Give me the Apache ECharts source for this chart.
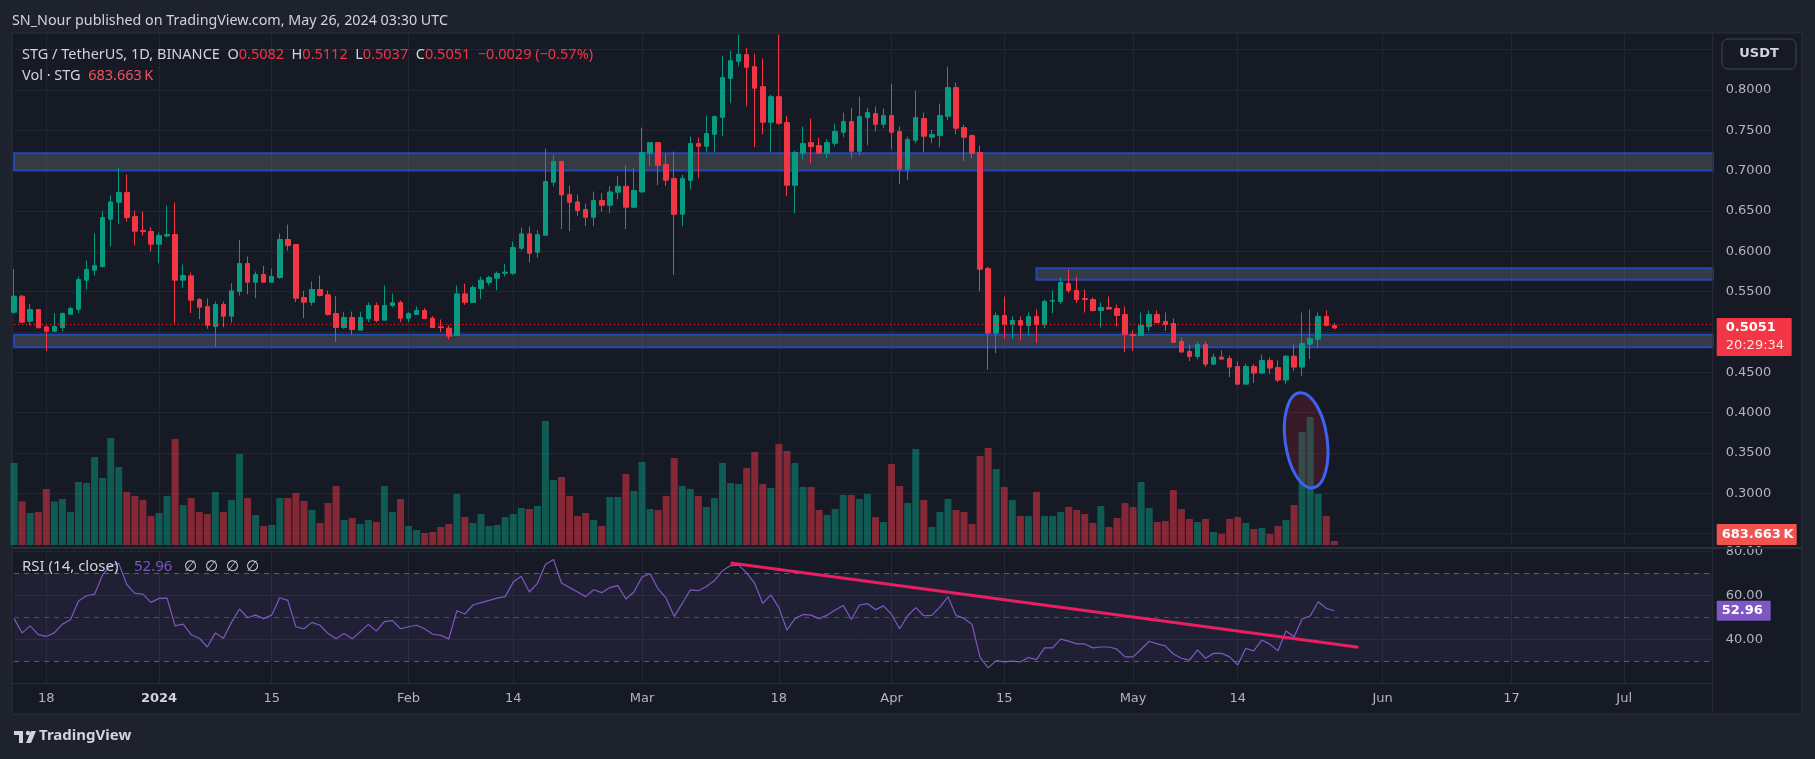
<!DOCTYPE html>
<html>
<head>
<meta charset="utf-8">
<title>STG / TetherUS 1D</title>
<script src="https://cdn.jsdelivr.net/npm/echarts@6/dist/echarts.min.js"></script>
<style>
  html, body { margin: 0; padding: 0; background: #1e222d; }
  #chart { width: 1815px; height: 759px; }
</style>
</head>
<body>
<div id="chart"></div>
<script>
// daily candles, 2023-12-14 .. 2024-05-26
var openV = [0.5246,0.5444,0.5135,0.5279,0.5064,0.5011,0.5056,0.5221,0.5283,0.5643,
  0.5767,0.5812,0.6398,0.6609,0.6729,0.6431,0.6258,0.6246,0.6089,0.6192,
  0.6209,0.5643,0.5696,0.5403,0.5316,0.5069,0.5341,0.5197,0.5502,0.5849,
  0.5618,0.5713,0.5618,0.5676,0.6147,0.6085,0.5428,0.5370,0.5527,0.5461,
  0.5230,0.5056,0.5180,0.5023,0.5164,0.5329,0.5147,0.5329,0.5366,0.5172,
  0.5217,0.5267,0.5172,0.5064,0.5048,0.4957,0.5473,0.5366,0.5539,0.5614,
  0.5667,0.5729,0.5729,0.6039,0.6217,0.5990,0.6200,0.6857,0.7113,0.6704,
  0.6613,0.6518,0.6423,0.6630,0.6572,0.6733,0.6807,0.6547,0.6737,0.7216,
  0.7348,0.7076,0.6902,0.6460,0.6882,0.7336,0.7303,0.7452,0.7662,0.8146,
  0.8356,0.8439,0.8290,0.8042,0.7600,0.7918,0.7596,0.6820,0.7216,0.7348,
  0.7311,0.7216,0.7340,0.7476,0.7609,0.7241,0.7658,0.7708,0.7576,0.7683,
  0.7485,0.7018,0.7377,0.7646,0.7415,0.7435,0.7675,0.8030,0.7534,0.7435,
  0.7225,0.5787,0.4986,0.5205,0.5098,0.5143,0.5081,0.5193,0.5094,0.5383,
  0.5379,0.5602,0.5515,0.5416,0.5403,0.5267,0.5304,0.5292,0.5218,0.4970,
  0.4957,0.5069,0.5218,0.5131,0.5106,0.4883,0.4759,0.4697,0.4846,0.4602,
  0.4689,0.4672,0.4573,0.4354,0.4573,0.4491,0.4648,0.4561,0.4404,0.4701,
  0.4565,0.4850,0.4912,0.5193,0.5082];
var highV = [0.5783,0.5461,0.5349,0.5285,0.5081,0.5234,0.5242,0.5316,0.5688,0.5886,
  0.6225,0.6502,0.6696,0.7039,0.6952,0.6506,0.6494,0.6299,0.6233,0.6568,
  0.6605,0.5837,0.5738,0.5420,0.5415,0.5378,0.5378,0.5605,0.6142,0.5936,
  0.5750,0.5820,0.5787,0.6221,0.6332,0.6085,0.5510,0.5626,0.5701,0.5515,
  0.5444,0.5246,0.5254,0.5246,0.5366,0.5366,0.5577,0.5477,0.5391,0.5246,
  0.5316,0.5296,0.5197,0.5155,0.5081,0.5577,0.5601,0.5577,0.5688,0.5696,
  0.5750,0.5845,0.6122,0.6295,0.6308,0.6266,0.7274,0.7196,0.7125,0.6816,
  0.6704,0.6593,0.6741,0.6721,0.6811,0.6935,0.7063,0.7030,0.7534,0.7348,
  0.7348,0.7212,0.7237,0.6952,0.7423,0.7410,0.7683,0.7683,0.8426,0.8488,
  0.8687,0.8525,0.8451,0.8389,0.7943,0.8687,0.7683,0.7249,0.7547,0.7646,
  0.7410,0.7386,0.7584,0.7720,0.7782,0.7918,0.7782,0.7794,0.7770,0.8079,
  0.7547,0.7423,0.7993,0.7720,0.7510,0.7832,0.8290,0.8092,0.7571,0.7448,
  0.7311,0.5812,0.5242,0.5440,0.5193,0.5193,0.5242,0.5280,0.5403,0.5515,
  0.5676,0.5775,0.5688,0.5527,0.5428,0.5366,0.5441,0.5341,0.5317,0.5019,
  0.5242,0.5267,0.5267,0.5242,0.5168,0.4933,0.4846,0.4883,0.4883,0.4734,
  0.4772,0.4710,0.4635,0.4610,0.4602,0.4722,0.4685,0.4648,0.4714,0.4846,
  0.5242,0.5280,0.5242,0.5267,0.5112];
var lowV = [0.5226,0.5114,0.5081,0.5050,0.4763,0.4998,0.5011,0.5221,0.5234,0.5527,
  0.5701,0.5800,0.6060,0.6336,0.6370,0.6076,0.6196,0.5998,0.5853,0.6171,
  0.5106,0.5552,0.5234,0.5159,0.5040,0.4812,0.5060,0.5110,0.5453,0.5469,
  0.5420,0.5618,0.5614,0.5659,0.6010,0.5370,0.5172,0.5329,0.5440,0.5205,
  0.4874,0.5040,0.4965,0.5015,0.5122,0.5122,0.5147,0.5308,0.5122,0.5122,
  0.5217,0.5159,0.5056,0.4998,0.4907,0.4957,0.5337,0.5358,0.5407,0.5577,
  0.5519,0.5692,0.5709,0.6014,0.5862,0.5923,0.6200,0.6807,0.6275,0.6250,
  0.6440,0.6312,0.6312,0.6493,0.6473,0.6646,0.6275,0.6535,0.6725,0.7055,
  0.6820,0.6811,0.5709,0.6312,0.6770,0.6907,0.7225,0.7225,0.7427,0.7836,
  0.8294,0.7799,0.7291,0.7452,0.7229,0.7567,0.6684,0.6473,0.7142,0.7092,
  0.7216,0.7154,0.7303,0.7415,0.7154,0.7191,0.7315,0.7489,0.7526,0.7266,
  0.6832,0.6882,0.7340,0.7229,0.7340,0.7291,0.7625,0.7452,0.7117,0.7154,
  0.5506,0.4533,0.4738,0.4912,0.4912,0.4899,0.4961,0.4862,0.5048,0.5234,
  0.5346,0.5482,0.5358,0.5242,0.5255,0.5056,0.5284,0.5069,0.4751,0.4763,
  0.4949,0.5011,0.5110,0.5011,0.4871,0.4751,0.4639,0.4664,0.4565,0.4590,
  0.4664,0.4441,0.4354,0.4354,0.4367,0.4478,0.4478,0.4379,0.4354,0.4515,
  0.4454,0.4664,0.4800,0.5073,0.5037];
var closeV = [0.5444,0.5122,0.5279,0.5052,0.5011,0.5069,0.5230,0.5292,0.5651,0.5775,
  0.5824,0.6419,0.6613,0.6729,0.6419,0.6250,0.6246,0.6089,0.6196,0.6209,
  0.5643,0.5701,0.5395,0.5308,0.5085,0.5341,0.5197,0.5510,0.5849,0.5618,
  0.5713,0.5618,0.5688,0.6147,0.6072,0.5420,0.5370,0.5527,0.5453,0.5217,
  0.5056,0.5180,0.5031,0.5180,0.5329,0.5143,0.5329,0.5362,0.5172,0.5230,
  0.5267,0.5168,0.5056,0.5056,0.4949,0.5473,0.5370,0.5552,0.5643,0.5676,
  0.5725,0.5742,0.6047,0.6217,0.5977,0.6208,0.6865,0.7113,0.6700,0.6609,
  0.6506,0.6423,0.6630,0.6572,0.6737,0.6807,0.6547,0.6754,0.7224,0.7348,
  0.7067,0.6882,0.6460,0.6902,0.7336,0.7303,0.7460,0.7671,0.8154,0.8364,
  0.8443,0.8282,0.8022,0.7600,0.7918,0.7588,0.6820,0.7225,0.7336,0.7299,
  0.7216,0.7348,0.7485,0.7609,0.7241,0.7671,0.7720,0.7576,0.7683,0.7476,
  0.7018,0.7386,0.7658,0.7427,0.7448,0.7683,0.8030,0.7526,0.7415,0.7216,
  0.5779,0.4986,0.5205,0.5098,0.5143,0.5085,0.5193,0.5094,0.5379,0.5391,
  0.5614,0.5515,0.5403,0.5403,0.5267,0.5304,0.5284,0.5205,0.4970,0.4957,
  0.5081,0.5218,0.5118,0.5094,0.4871,0.4751,0.4697,0.4846,0.4602,0.4689,
  0.4664,0.4565,0.4354,0.4573,0.4491,0.4648,0.4553,0.4404,0.4701,0.4565,
  0.4858,0.4920,0.5193,0.5080,0.5051];
// volume in thousands of STG
var volumeK = [14020,7440,5470,5640,9580,7440,7870,5640,10770,10600,
  15050,11460,18300,13340,9060,8380,7700,4960,5470,8380,
  18130,6840,8040,5640,5300,9060,5640,7700,15560,8040,
  5130,3250,3420,8040,8040,8890,7520,5990,3760,7180,
  10090,4280,4620,3590,4280,3930,10090,5640,7870,3250,
  2570,2050,2220,3080,3590,8720,4790,3760,5300,3250,
  3420,4790,5300,6330,6160,6670,21200,11120,11630,8380,
  4960,5470,4280,3250,8210,8210,12140,9230,14190,6160,
  5990,8380,14880,10090,9580,8380,6500,8040,14020,10600,
  10430,13170,15900,10430,9750,17270,16070,14020,9920,9920,
  5990,5130,6160,8550,8550,7870,8720,4790,3930,13850,
  10090,7180,16420,7700,3080,5640,7870,5990,5640,3590,
  15220,16590,13000,9920,7700,4960,4960,9060,4960,4960,
  5640,6500,5990,5300,3760,6670,3080,4620,7180,6500,
  10770,6330,3930,4100,9410,6160,4450,3930,4450,2220,
  1880,4450,4790,3760,2740,2910,1880,3250,4280,6840,
  19320,21890,8720,4960,683.663];
var rsiV = [49.4,42.9,46.1,42.1,41.3,42.9,46.9,48.9,57.4,59.8,
  60.5,69.4,73.5,74.5,64.9,60.9,60.5,56.8,58.6,58.7,
  46.1,46.9,42.1,40.5,36.5,42.9,40.5,47.7,53.8,49.8,
  51.0,49.4,51.0,58.9,57.7,45.7,44.8,47.7,46.4,42.6,
  40.2,42.6,40.2,43.4,46.8,43.7,48.0,48.5,44.8,45.7,
  46.4,44.8,42.3,41.8,40.2,53.0,51.5,55.6,56.7,57.7,
  58.7,59.4,66.0,68.7,61.5,65.4,74.0,76.3,65.6,63.5,
  61.5,59.4,62.5,61.2,63.5,64.4,58.3,61.5,68.3,69.8,
  62.9,58.7,50.4,56.3,62.5,62.1,64.0,66.7,71.2,73.5,
  73.7,70.2,65.4,56.3,60.2,54.4,44.2,49.4,51.3,51.0,
  49.4,51.0,53.3,55.4,49.0,55.6,56.2,53.5,55.2,51.3,
  44.8,50.7,54.4,50.7,50.9,54.6,59.3,50.9,49.5,46.7,
  31.7,27.0,30.3,29.7,30.1,29.7,31.7,30.8,36.1,36.1,
  40.1,39.2,37.9,37.9,36.1,36.5,36.5,35.5,32.0,32.0,
  35.5,39.1,37.9,37.0,33.3,31.4,30.5,35.2,31.4,33.6,
  33.6,32.0,28.3,35.9,34.7,39.7,37.7,34.8,43.8,41.2,
  49.2,50.6,57.1,54.1,52.96];

// time axis labels
var tickDays = ['2023-12-18','2024-01-01','2024-01-15','2024-02-01','2024-02-14','2024-03-01',
  '2024-03-18','2024-04-01','2024-04-15','2024-05-01','2024-05-14','2024-06-01','2024-06-17','2024-07-01'];
var tickTexts = ['18','2024','15','Feb','14','Mar','18','Apr','15','May','14','Jun','17','Jul'];

// drawn zones (price from / to) and the RSI trend line
var zoneLow = [0.7001, 0.4812, 0.5647];
var zoneHigh = [0.7216, 0.4965, 0.5791];
var zoneStart = ['2023-12-14', '2023-12-14', '2024-04-19'];
var trendDays = ['2024-03-12', '2024-05-29'];
var trendRsi = [74.7, 36.4];
var lastPrice = 0.5051;

// day categories up to mid July
var days = [];
var t0 = Date.UTC(2023, 11, 14);
for (var i = 0; i < 212; i++) {
  days.push(new Date(t0 + i * 86400000).toISOString().slice(0, 10));
}
var lastDay = days[days.length - 1];

var UP = '#089981', DOWN = '#f23645';
var candles = openV.map(function (o, i) { return [o, closeV[i], lowV[i], highV[i]]; });
var volData = volumeK.map(function (v, i) {
  return { value: v, itemStyle: { color: closeV[i] >= openV[i] ? 'rgba(8,153,129,0.5)' : 'rgba(242,54,69,0.5)' } };
});

var gridColor = '#232734';
var isTick = function (idx, val) { return tickDays.indexOf(val) >= 0; };

var zones = zoneLow.map(function (lo, i) {
  return [{ xAxis: zoneStart[i], yAxis: lo }, { xAxis: lastDay, yAxis: zoneHigh[i] }];
});

var chart = echarts.init(document.getElementById('chart'));

var option = {
  backgroundColor: '#1e222d',
  animation: false,
  grid: [
    { left: 14.1, right: 102.3, top: 49.7, height: 484 },
    { left: 14.1, right: 102.3, top: 33, height: 512 },
    { left: 14.1, right: 102.3, top: 551.3, height: 132 }
  ],
  xAxis: [
    { type: 'category', gridIndex: 0, data: days, boundaryGap: false, show: false },
    { type: 'category', gridIndex: 1, data: days, boundaryGap: false,
      axisLine: { show: false }, axisTick: { show: false }, axisLabel: { show: false },
      splitLine: { show: true, interval: isTick, lineStyle: { color: gridColor } } },
    { type: 'category', gridIndex: 2, data: days, boundaryGap: false,
      axisLine: { show: false }, axisTick: { show: false },
      splitLine: { show: true, interval: isTick, lineStyle: { color: gridColor } },
      axisLabel: {
        interval: isTick, margin: 9, color: '#b2b5be', fontSize: 13, fontFamily: 'DejaVu Sans',
        formatter: function (val) {
          var k = tickDays.indexOf(val);
          if (k < 0) return '';
          return tickTexts[k] === '2024' ? '{y|2024}' : tickTexts[k];
        },
        rich: { y: { color: '#d1d4dc', fontWeight: 'bold', fontSize: 13, fontFamily: 'DejaVu Sans' } }
      } }
  ],
  yAxis: [
    { type: 'value', gridIndex: 0, position: 'right', min: 0.25, max: 0.85, interval: 0.05,
      axisLine: { show: false }, axisTick: { show: false },
      splitLine: { lineStyle: { color: gridColor } },
      axisLabel: { showMinLabel: false, showMaxLabel: false, margin: 13, color: '#b2b5be',
        fontSize: 13, fontFamily: 'DejaVu Sans', formatter: function (v) { return v.toFixed(4); } } },
    { type: 'value', gridIndex: 1, min: 0, max: 87552, show: false },
    { type: 'value', gridIndex: 2, position: 'right', min: 20, max: 80, interval: 20,
      axisLine: { show: false }, axisTick: { show: false },
      splitLine: { lineStyle: { color: gridColor } },
      axisLabel: { showMinLabel: false, margin: 13, color: '#b2b5be', fontSize: 13,
        fontFamily: 'DejaVu Sans', formatter: function (v) { return v.toFixed(2); } } }
  ],
  series: [
    {
      name: 'Vol', type: 'bar', xAxisIndex: 1, yAxisIndex: 1, data: volData,
      barWidth: 7, silent: true
    },
    {
      name: 'STG', type: 'candlestick', xAxisIndex: 0, yAxisIndex: 0, data: candles,
      barWidth: 5, clip: false,
      itemStyle: { color: UP, color0: DOWN, borderColor: UP, borderColor0: DOWN, borderWidth: 1 },
      markArea: {
        silent: true,
        itemStyle: { color: 'rgba(120,123,134,0.33)', borderColor: '#2447b5', borderWidth: 2 },
        data: zones
      },
      markLine: {
        silent: true, symbol: 'none', label: { show: false },
        lineStyle: { color: DOWN, type: [1, 3], width: 1 },
        data: [{ yAxis: lastPrice }]
      }
    },
    {
      name: 'RSI', type: 'line', xAxisIndex: 2, yAxisIndex: 2, data: rsiV,
      symbol: 'none', lineStyle: { color: '#7e57c2', width: 1.2 }, silent: true,
      markArea: {
        silent: true, itemStyle: { color: 'rgba(126,87,194,0.1)' },
        data: [[{ xAxis: days[0], yAxis: 30 }, { xAxis: lastDay, yAxis: 70 }]]
      },
      markLine: {
        silent: true, symbol: 'none', label: { show: false },
        data: [
          { yAxis: 70, lineStyle: { color: 'rgba(120,123,134,0.7)', type: [5, 5], width: 1 } },
          { yAxis: 50, lineStyle: { color: 'rgba(120,123,134,0.5)', type: [5, 5], width: 1 } },
          { yAxis: 30, lineStyle: { color: 'rgba(120,123,134,0.7)', type: [5, 5], width: 1 } },
          [{ coord: [trendDays[0], trendRsi[0]], lineStyle: { color: '#e91e63', width: 3, type: 'solid' } },
           { coord: [trendDays[1], trendRsi[1]] }]
        ]
      }
    }
  ]
};
chart.setOption(option);

// overlays placed through the chart's own scales
var priceY = chart.convertToPixel({ yAxisIndex: 0 }, lastPrice);
var volBase = chart.convertToPixel({ yAxisIndex: 1 }, 0);
var rsiY = chart.convertToPixel({ yAxisIndex: 2 }, rsiV[rsiV.length - 1]);
var ex = (chart.convertToPixel({ xAxisIndex: 1 }, days[160]) + chart.convertToPixel({ xAxisIndex: 1 }, days[161])) / 2;
var ey = chart.convertToPixel({ yAxisIndex: 1 }, 17900);
var plotRight = chart.convertToPixel({ xAxisIndex: 1 }, lastDay);

var txt = '#d1d4dc';
var uiFont = '"Noto Sans", sans-serif';
var legendSize = 14.5;
chart.setOption({
  graphic: [
    { type: 'rect', z: -10, silent: true, shape: { x: 12, y: 33, width: 1790, height: 681 },
      style: { fill: '#161a25', stroke: '#2a2e39', lineWidth: 1 } },
    { type: 'line', z: 1, silent: true, shape: { x1: plotRight, y1: 33, x2: plotRight, y2: 714 },
      style: { stroke: '#2a2e39', lineWidth: 1 } },
    { type: 'line', z: 1, silent: true, shape: { x1: 12, y1: 548, x2: 1802, y2: 548 },
      style: { stroke: '#2a2e39', lineWidth: 2 } },
    { type: 'line', z: 1, silent: true, shape: { x1: 12, y1: 683.5, x2: plotRight, y2: 683.5 },
      style: { stroke: '#2a2e39', lineWidth: 1 } },
    { type: 'text', left: 12, top: 14, silent: true,
      style: { text: 'SN_Nour published on TradingView.com, May 26, 2024 03:30 UTC', fill: txt,
        font: '14.3px ' + uiFont } },
    { type: 'text', left: 22, top: 47.5, silent: true, z: 20,
      style: {
        text: '{g|STG / TetherUS, 1D, BINANCE}  {g|O}{r|0.5082}  {g|H}{r|0.5112}  {g|L}{r|0.5037}  {g|C}{r|0.5051}  {r|\u22120.0029 (\u22120.57%)}',
        font: legendSize + 'px ' + uiFont,
        rich: { g: { fill: txt, fontSize: legendSize, fontFamily: uiFont }, r: { fill: DOWN, fontSize: legendSize, fontFamily: uiFont } }
      } },
    { type: 'text', left: 22, top: 68.5, silent: true, z: 20,
      style: { text: '{g|Vol \u00b7 STG}  {r|683.663\u2009K}', font: legendSize + 'px ' + uiFont,
        rich: { g: { fill: txt, fontSize: legendSize, fontFamily: uiFont }, r: { fill: '#f7525f', fontSize: legendSize, fontFamily: uiFont } } } },
    { type: 'text', left: 22, top: 559, silent: true, z: 20,
      style: { text: '{g|RSI (14, close)}    {p|52.96}   {g|\u2205  \u2205  \u2205  \u2205}', font: '15px ' + uiFont,
        rich: { g: { fill: txt, fontSize: 15, fontFamily: uiFont }, p: { fill: '#7e57c2', fontSize: 15, fontFamily: uiFont } } } },
    // USDT box
    { type: 'rect', z: 20, silent: true, shape: { x: 1722, y: 39, width: 74, height: 30, r: 6 },
      style: { fill: '#161a25', stroke: '#434651', lineWidth: 1 } },
    { type: 'text', z: 21, silent: true, x: 1759, y: 54,
      style: { text: 'USDT', fill: txt, font: 'bold 13px "DejaVu Sans"', align: 'center', verticalAlign: 'middle' } },
    // last price label
    { type: 'rect', z: 20, silent: true, shape: { x: plotRight + 4, y: priceY - 10, width: 75, height: 38, r: 1 },
      style: { fill: DOWN } },
    { type: 'text', z: 21, silent: true, x: plotRight + 13, y: priceY,
      style: { text: '0.5051', fill: '#ffffff', font: 'bold 13px "DejaVu Sans"', verticalAlign: 'middle' } },
    { type: 'text', z: 21, silent: true, x: plotRight + 13, y: priceY + 18,
      style: { text: '20:29:34', fill: '#ffe0e3', font: '13px "DejaVu Sans"', verticalAlign: 'middle' } },
    // volume label
    { type: 'rect', z: 20, silent: true, shape: { x: plotRight + 4, y: volBase - 21, width: 80, height: 21, r: 1 },
      style: { fill: '#f05350' } },
    { type: 'text', z: 21, silent: true, x: plotRight + 9, y: volBase - 10.5,
      style: { text: '683.663\u2009K', fill: '#ffffff', font: 'bold 13px "DejaVu Sans"', verticalAlign: 'middle' } },
    // rsi label
    { type: 'rect', z: 20, silent: true, shape: { x: plotRight + 4, y: rsiY - 10, width: 54, height: 20, r: 1 },
      style: { fill: '#7e57c2' } },
    { type: 'text', z: 21, silent: true, x: plotRight + 9, y: rsiY,
      style: { text: '52.96', fill: '#ffffff', font: 'bold 13px "DejaVu Sans"', verticalAlign: 'middle' } },
    // volume spike ellipse
    { type: 'ellipse', z: 30, silent: true, x: ex, y: ey, rotation: 0.14,
      shape: { cx: 0, cy: 0, rx: 21, ry: 48 },
      style: { fill: 'rgba(160,30,50,0.25)', stroke: '#3d63f0', lineWidth: 3 } },
    // TradingView mark
    { type: 'rect', silent: true, shape: { x: 14, y: 731, width: 9, height: 4 }, style: { fill: txt } },
    { type: 'rect', silent: true, shape: { x: 19, y: 731, width: 4, height: 12 }, style: { fill: txt } },
    { type: 'circle', silent: true, shape: { cx: 28, cy: 733, r: 2.2 }, style: { fill: txt } },
    { type: 'polygon', silent: true, shape: { points: [[26, 743], [31, 731], [36, 731], [31, 743]] }, style: { fill: txt } },
    { type: 'text', left: 39, top: 728, silent: true,
      style: { text: 'TradingView', fill: txt, font: 'bold 15px ' + uiFont } }
  ]
});
</script>
</body>
</html>
